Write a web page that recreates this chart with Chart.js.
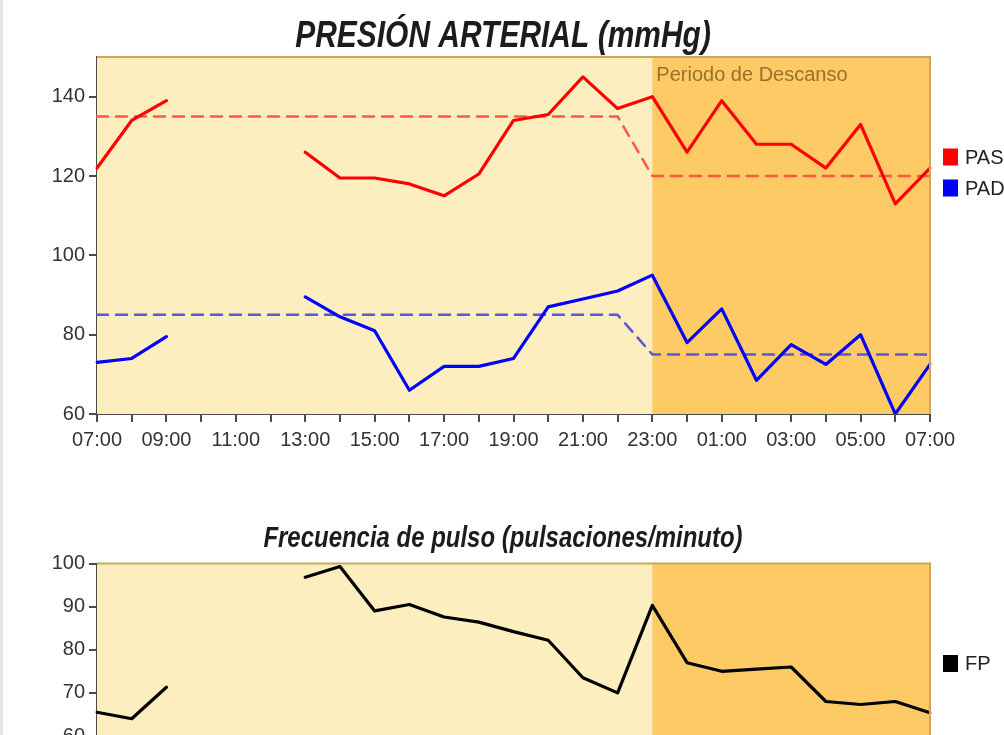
<!DOCTYPE html>
<html>
<head>
<meta charset="utf-8">
<script src="https://cdn.jsdelivr.net/npm/chart.js@4.4.1/dist/chart.umd.min.js"></script>
<style>
  html, body { margin: 0; padding: 0; background: #ffffff; width: 1004px; height: 735px; overflow: hidden; }
  #strip { position: absolute; left: 0; top: 0; width: 3px; height: 735px; background: #e6e6e6; }
  #c1 { position: absolute; left: 0; top: 0; }
  #c2 { position: absolute; left: 0; top: 505px; }
</style>
</head>
<body>
<div id="strip"></div>
<canvas id="c1" width="1004" height="470"></canvas>
<canvas id="c2" width="1004" height="290"></canvas>
<script>
// ---- data ----
const hours = ['07:00','08:00','09:00','10:00','11:00','12:00','13:00','14:00','15:00','16:00','17:00','18:00','19:00','20:00','21:00','22:00','23:00','00:00','01:00','02:00','03:00','04:00','05:00','06:00','07:00'];
const pas    = [122,134,139,null,null,null,126,119.5,119.5,118,115,120.5,134,135.5,145,137,140,126,139,128,128,122,133,113,122];
const pad    = [73,74,79.5,null,null,null,89.5,84.5,81,66,72,72,74,87,89,91,95,78,86.5,68.5,77.5,72.5,80,60,72.5];
const pasRef = [135,135,135,135,135,135,135,135,135,135,135,135,135,135,135,135,120,120,120,120,120,120,120,120,120];
const padRef = [85,85,85,85,85,85,85,85,85,85,85,85,85,85,85,85,75,75,75,75,75,75,75,75,75];
const fp     = [65.5,64,71.3,null,null,null,96.8,99.3,89,90.5,87.6,86.4,84.2,82.2,73.5,70,90.3,77,75,75.5,76,68,67.3,68,65.4];
const restIndex = 16; // '23:00'
const pressureTicks = [60, 150, 20];
const pulseTicks = [60, 100, 10];
const titlePressure = 'PRESIÓN ARTERIAL (mmHg)';
const titlePulse = 'Frecuencia de pulso (pulsaciones/minuto)';
const restLabel = 'Periodo de Descanso';

// ---- styling ----
const SANS = "'Liberation Sans', Arial, sans-serif";
const LIGHT_BG = '#FDEEC0';
const REST_BG = '#FDCA66';
const AXIS = '#4a4a4a';
const TICK_TXT = '#333333';

const bgPlugin = {
  id: 'bands',
  beforeDatasetsDraw(chart, args, opts) {
    const { ctx, chartArea: a, scales: { x } } = chart;
    ctx.save();
    ctx.fillStyle = LIGHT_BG;
    ctx.fillRect(a.left, a.top, a.right - a.left, a.bottom - a.top);
    const xr = x.getPixelForValue(restIndex);
    ctx.fillStyle = REST_BG;
    ctx.fillRect(xr, a.top, a.right - xr, a.bottom - a.top);
    if (opts.label) {
      ctx.fillStyle = '#96712c';
      ctx.font = "20px " + SANS;
      ctx.textBaseline = 'top';
      ctx.textAlign = 'left';
      ctx.fillText(opts.label, xr + 4, a.top + 8);
    }
    ctx.restore();
  },
  afterDatasetsDraw(chart) {
    const { ctx, chartArea: a } = chart;
    ctx.save();
    ctx.strokeStyle = '#c8a860';
    ctx.lineWidth = 2;
    ctx.beginPath();
    ctx.moveTo(a.left, a.top);
    ctx.lineTo(a.right, a.top);
    ctx.lineTo(a.right, a.bottom);
    ctx.stroke();
    ctx.restore();
  },
  afterDraw(chart, args, opts) {
    const { ctx, chartArea: a } = chart;
    ctx.save();
    // condensed italic title
    if (opts.title) {
      ctx.font = 'italic bold ' + opts.titleSize + 'px ' + SANS;
      ctx.fillStyle = '#1c1c1c';
      ctx.textBaseline = 'alphabetic';
      ctx.textAlign = 'center';
      ctx.translate(opts.titleX, opts.titleBaseline);
      ctx.scale(opts.titleScaleX, 1);
      ctx.fillText(opts.title, 0, 0);
      ctx.setTransform(1, 0, 0, 1, 0, 0);
    }
    // legend
    const items = chart.data.datasets.filter(d => d.inLegend);
    ctx.font = '20px ' + SANS;
    ctx.textBaseline = 'middle';
    ctx.textAlign = 'left';
    items.forEach((d, i) => {
      const cy = a.top + 100 + i * 31;
      ctx.fillStyle = d.borderColor;
      ctx.fillRect(a.right + 13, cy - 8.5, 15, 17);
      ctx.fillStyle = '#222';
      ctx.fillText(d.label, a.right + 35, cy + 1);
    });
    ctx.restore();
  }
};

function xScale(height) {
  return {
    type: 'category',
    offset: false,
    afterFit: s => { s.height = height; },
    grid: { display: true, drawOnChartArea: false, drawTicks: true, tickLength: 8, color: AXIS, lineWidth: 2 },
    border: { display: true, color: AXIS, width: 2 },
    ticks: {
      autoSkip: false, maxRotation: 0, minRotation: 0, padding: 6,
      color: TICK_TXT, font: { family: SANS, size: 20 },
      callback: function(v, i) { return i % 2 === 0 ? this.getLabelForValue(v) : ''; }
    }
  };
}
function yScale(t) {
  return {
    min: t[0], max: t[1],
    afterFit: s => { s.width = 97; },
    grid: { display: true, drawOnChartArea: false, drawTicks: true, tickLength: 8, color: AXIS, lineWidth: 2 },
    border: { display: true, color: AXIS, width: 2 },
    ticks: { stepSize: t[2], includeBounds: false, padding: 4, color: TICK_TXT, font: { family: SANS, size: 20 } }
  };
}

const common = {
  responsive: false,
  animation: false,
  events: [],
  elements: { point: { radius: 0 }, line: { tension: 0, borderCapStyle: 'round', borderJoinStyle: 'round' } },
};

new Chart(document.getElementById('c1'), {
  type: 'line',
  data: {
    labels: hours,
    datasets: [
      { label: 'PAS', data: pas, borderColor: '#ff0000', borderWidth: 3.2, spanGaps: false, inLegend: true, order: 0 },
      { label: 'PAD', data: pad, borderColor: '#0000ff', borderWidth: 3.2, spanGaps: false, inLegend: true, order: 0 },
      { label: 'PAS ref', data: pasRef, borderColor: '#ff5544', borderWidth: 2.5, borderDash: [11, 8], order: 1 },
      { label: 'PAD ref', data: padRef, borderColor: '#5a55dd', borderWidth: 2.5, borderDash: [11, 8], order: 1 }
    ]
  },
  options: Object.assign({}, common, {
    layout: { padding: { left: 0, right: 74, top: 57, bottom: 0 } },
    scales: { x: xScale(56), y: yScale(pressureTicks) },
    plugins: {
      legend: { display: false },
      tooltip: { enabled: false },
      title: { display: false },
      bands: { label: restLabel, title: titlePressure, titleSize: 37, titleScaleX: 0.81, titleX: 503, titleBaseline: 46.5 }
    }
  }),
  plugins: [bgPlugin]
});

new Chart(document.getElementById('c2'), {
  type: 'line',
  data: {
    labels: hours,
    datasets: [
      { label: 'FP', data: fp, borderColor: '#000000', borderWidth: 3.2, spanGaps: false, inLegend: true }
    ]
  },
  options: Object.assign({}, common, {
    layout: { padding: { left: 0, right: 74, top: 58.5, bottom: 0 } },
    scales: { x: xScale(59), y: yScale(pulseTicks) },
    plugins: {
      legend: { display: false },
      tooltip: { enabled: false },
      title: { display: false },
      bands: { label: '', title: titlePulse, titleSize: 29, titleScaleX: 0.826, titleX: 503, titleBaseline: 41.5 }
    }
  }),
  plugins: [bgPlugin]
});
</script>
</body>
</html>
